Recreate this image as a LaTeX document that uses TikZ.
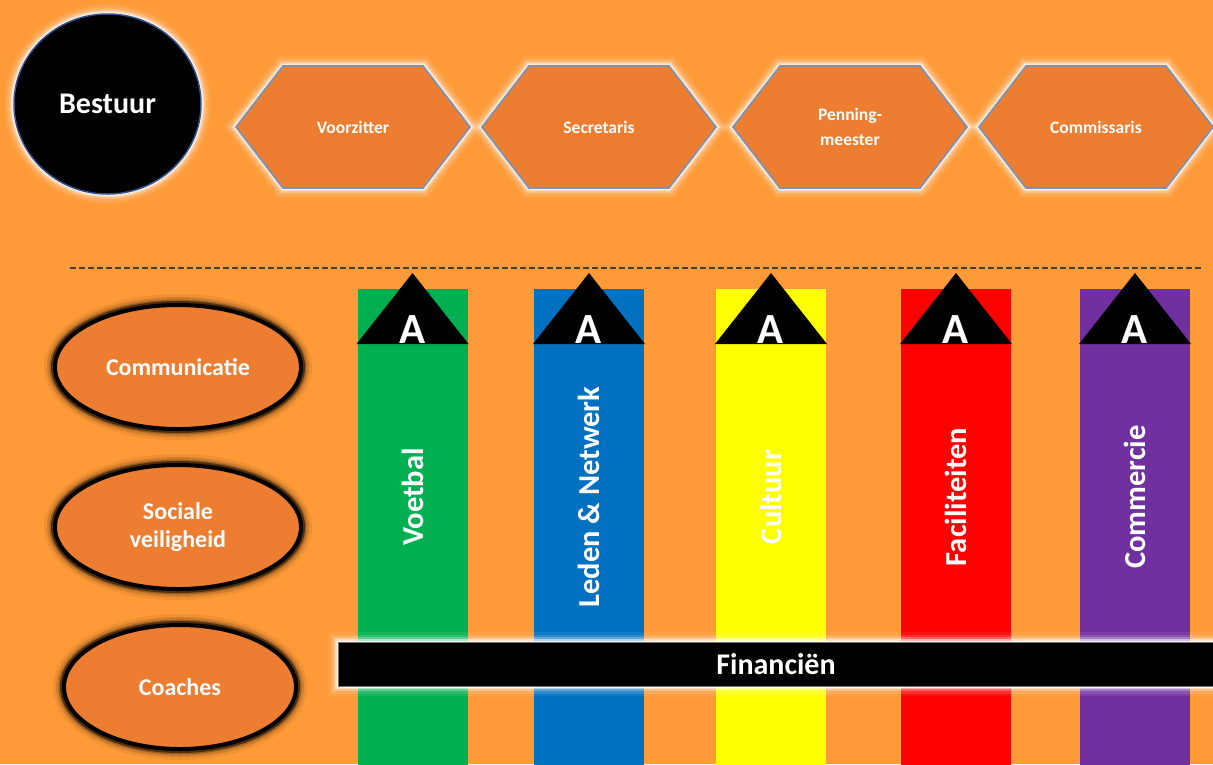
\documentclass[tikz,border=0pt]{standalone}
\usepackage{fontspec}
\setmainfont{Carlito}
\usetikzlibrary{shapes.geometric}
\definecolor{bgor}{HTML}{FE9A37}
\definecolor{shor}{HTML}{ED7D31}
\definecolor{hexline}{HTML}{7F93AE}
\definecolor{ringblue}{HTML}{2F528F}
\definecolor{vgreen}{HTML}{00B050}
\definecolor{vblue}{HTML}{0070C0}
\definecolor{vyellow}{HTML}{FFFF00}
\definecolor{vred}{HTML}{FF0000}
\definecolor{vpurple}{HTML}{7030A0}
\pgfdeclarelayer{back}
\pgfsetlayers{back,main}
\newcommand\hexdraw[1]{%
  \begin{pgfonlayer}{back}
  \draw[hexshape] (#1.west) -- ([xshift=47pt]#1.north west) -- ([xshift=-47pt]#1.north east)
    -- (#1.east) -- ([xshift=-47pt]#1.south east) -- ([xshift=47pt]#1.south west) -- cycle;
  \end{pgfonlayer}}
\begin{document}
\begin{tikzpicture}[x=1pt,y=-1pt,
  wglow/.style={preaction={draw=white,line width=20pt,opacity=0.07},
                preaction={draw=white,line width=15pt,opacity=0.12},
                preaction={draw=white,line width=10pt,opacity=0.25},
                preaction={draw=white,line width=6pt,opacity=0.5},
                preaction={draw=white,line width=3pt,opacity=0.8}},
  bglow/.style={preaction={draw=black,line width=22pt,opacity=0.06},
                preaction={draw=black,line width=16pt,opacity=0.12},
                preaction={draw=black,line width=11pt,opacity=0.25},
                preaction={draw=black,line width=8pt,opacity=0.5}},
  hexshape/.style={fill=shor,draw=hexline,line width=1.8pt,line join=miter,wglow},
  hexnode/.style={rectangle,minimum width=234pt,minimum height=122pt,inner sep=0pt,outer sep=0pt,
                  text=white,align=center,font=\bfseries\fontsize{17.5}{25}\selectfont},
  ell/.style={ellipse,fill=shor,draw=black,line width=4pt,inner sep=0pt,bglow,
              text=white,align=center,font=\bfseries\fontsize{24}{28}\selectfont},
  bar/.style={rectangle,anchor=north,minimum width=110pt,minimum height=476pt,inner sep=0pt,outer sep=0pt},
  barlabel/.style={rotate=90,text=white,font=\bfseries\fontsize{30.5}{34}\selectfont,inner sep=0pt},
  alabel/.style={text=white,font=\bfseries\fontsize{43}{43}\selectfont,inner sep=0pt,anchor=base},
  finbar/.style={rectangle,fill=black,draw=black!55,line width=1pt,minimum width=876pt,minimum height=44pt,
                 inner sep=0pt,text=white,font=\bfseries\fontsize{30}{34}\selectfont,wglow}
]
\begin{pgfonlayer}{back}
\fill[bgor] (0,0) rectangle (1213,764);
\end{pgfonlayer}
\useasboundingbox (0,0) rectangle (1213,764);

% Bestuur
\node[ellipse,fill=black,draw=ringblue,line width=1.5pt,minimum width=187pt,minimum height=180pt,inner sep=0pt,wglow,
      text=white,font=\bfseries\fontsize{30}{34}\selectfont] (bestuur) at (107.5,104) {Bestuur};

% hexagons
\node[hexnode] (voorz) at (353,127) {Voorzitter};
\hexdraw{voorz}
\node[hexnode] (secr) at (599,127) {Secretaris};
\hexdraw{secr}
\node[hexnode] (penn) at (850,127) {Penning-\\meester};
\hexdraw{penn}
\node[hexnode] (comm) at (1096,127) {Commissaris};
\hexdraw{comm}

% dashed separator
\coordinate (dl) at (70,268);
\coordinate (dr) at (1203,268);
\draw[black!75,line width=1.6pt,dash pattern=on 6pt off 3pt] (dl) -- (dr);

% ellipses
\node[ell,minimum width=246pt,minimum height=124pt] (communicatie) at (178,367) {Communicatie};
\node[ell,minimum width=246pt,minimum height=124pt] (sociale) at (178,527) {Sociale\\veiligheid};
\node[ell,minimum width=232pt,minimum height=124pt] (coaches) at (180,687) {Coaches};

% columns
\foreach \n/\x/\c/\t in {1/412.5/vgreen/Voetbal,2/589/vblue/Leden \& Netwerk,3/771/vyellow/Cultuur,
                         4/956/vred/Faciliteiten,5/1135/vpurple/Commercie}{
  \node[bar,fill=\c] (bar\n) at (\x,289) {};
  \node[barlabel] (lab\n) at (\x,497) {\t};
  \fill[black] ([yshift=16pt]bar\n.north) -- ([xshift=-1pt,yshift=-55pt]bar\n.north west)
     -- ([xshift=1pt,yshift=-55pt]bar\n.north east) -- cycle;
  \node[alabel] (a\n) at ([yshift=-54pt]bar\n.north) {A};
}

% Financien
\node[finbar] (fin) at (776,664) {Financiën};
\end{tikzpicture}
\end{document}
